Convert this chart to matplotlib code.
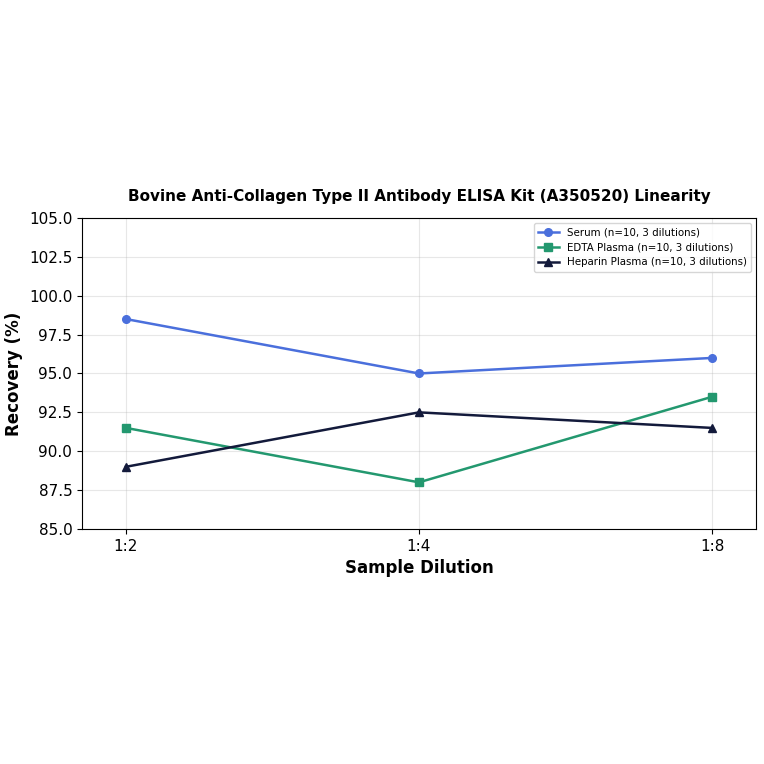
import matplotlib.pyplot as plt

dilutions = ["1:2", "1:4", "1:8"]
serum = [98.5, 95.0, 96.0]
edta_plasma = [91.5, 88.0, 93.5]
heparin_plasma = [89.0, 92.5, 91.5]

fig = plt.figure(figsize=(7.64, 7.64), dpi=100)
ax = fig.add_axes([0.1073, 0.3076, 0.8822, 0.4071])

x = range(len(dilutions))
ax.plot(x, serum, marker="o", color="#4a6fdc", linewidth=1.8, markersize=5.5,
        label="Serum (n=10, 3 dilutions)")
ax.plot(x, edta_plasma, marker="s", color="#23986f", linewidth=1.8, markersize=5.5,
        label="EDTA Plasma (n=10, 3 dilutions)")
ax.plot(x, heparin_plasma, marker="^", color="#131a3b", linewidth=1.8, markersize=5.5,
        label="Heparin Plasma (n=10, 3 dilutions)")

ax.set_xticks(list(x))
ax.set_xticklabels(dilutions)
ax.set_xlim(-0.15, 2.15)
ax.set_ylim(85, 105)
ax.set_yticks([85, 87.5, 90, 92.5, 95, 97.5, 100, 102.5, 105])
ax.tick_params(labelsize=11)
ax.grid(True, alpha=0.3)

ax.set_xlabel("Sample Dilution", fontsize=12, fontweight="bold")
ax.set_ylabel("Recovery (%)", fontsize=12, fontweight="bold")
ax.set_title("Bovine Anti-Collagen Type II Antibody ELISA Kit (A350520) Linearity",
             fontsize=11, fontweight="bold", pad=12)
ax.legend(loc="upper right", fontsize=7.4)

fig.savefig("out.png", dpi=100)
